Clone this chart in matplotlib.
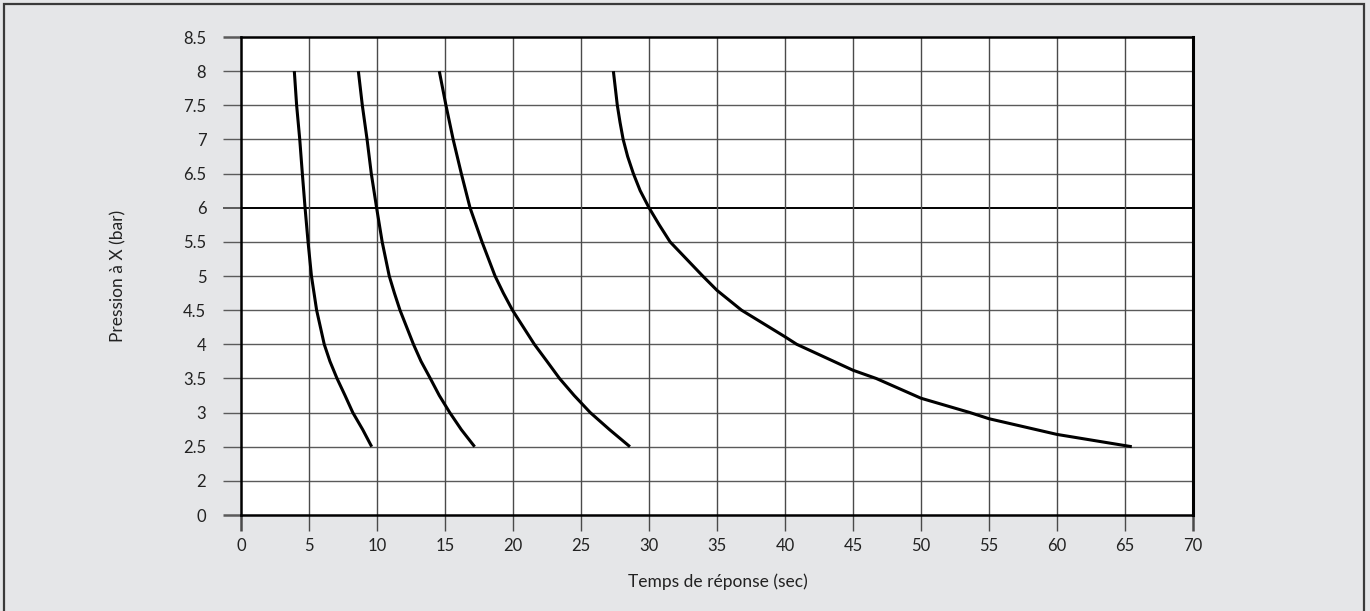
import numpy as np
import matplotlib.pyplot as plt
from matplotlib.patches import Rectangle

plt.rcParams['font.family'] = ['Lato', 'DejaVu Sans']

# Temps de réponse (sec), at pressures in bar
p1 = [8, 7.5, 7, 6.5, 6, 5.5, 5, 4.75, 4.5, 4, 3.75, 3.5, 3.25, 3, 2.75, 2.5]
t1 = [3.92, 4.09, 4.32, 4.51, 4.71, 4.93, 5.18, 5.37, 5.56, 6.12, 6.54, 7.06, 7.65, 8.22, 8.95, 9.61]

p2 = [8, 7.5, 7, 6.5, 6, 5.5, 5, 4.75, 4.5, 4, 3.75, 3.5, 3.25, 3, 2.75, 2.5]
t2 = [8.63, 8.92, 9.27, 9.58, 9.97, 10.38, 10.9, 11.28, 11.69, 12.68, 13.24, 13.92, 14.58, 15.35, 16.2, 17.18]

p3 = [8, 7.5, 7, 6.5, 6, 5.5, 5, 4.75, 4.5, 4, 3.75, 3.5, 3.25, 3, 2.75, 2.5]
t3 = [14.58, 15.07, 15.6, 16.2, 16.84, 17.72, 18.68, 19.29, 19.96, 21.57, 22.5, 23.42, 24.5, 25.68, 27.1, 28.6]

p4 = [8, 7.5, 7.25, 7, 6.75, 6.5, 6.25, 6, 5.75, 5.5, 5, 4.79, 4.5, 4.11, 4, 3.62, 3.5, 3.21, 3, 2.91, 2.68, 2.5]
t4 = [27.38, 27.67, 27.87, 28.1, 28.43, 28.85, 29.35, 30.0, 30.75, 31.55, 33.95, 35.0, 36.8, 40.0, 40.86, 45.0, 46.7, 50.0, 53.6, 55.0, 60.0, 65.5]

y_ticks = [0, 2, 2.5, 3, 3.5, 4, 4.5, 5, 5.5, 6, 6.5, 7, 7.5, 8, 8.5]
y_labels = ['0', '2', '2.5', '3', '3.5', '4', '4.5', '5', '5.5', '6', '6.5', '7', '7.5', '8', '8.5']
x_ticks = list(range(0, 75, 5))

# axis is broken between 0 and 2: every tick label gets the same spacing
fwd_pts = [0, 2, 8.5]
fwd_pos = [0, 1, 14]


def fwd(v):
    return np.interp(v, fwd_pts, fwd_pos)


def inv(v):
    return np.interp(v, fwd_pos, fwd_pts)


fig = plt.figure(figsize=(13.7, 6.11), dpi=100)
fig.patch.set_facecolor('#e5e6e8')
fig.patches.append(Rectangle((4 / 1370, -0.01), 1360 / 1370, 1 - 4 / 611 + 0.01,
                             transform=fig.transFigure, fill=False,
                             edgecolor='#3a3a3a', linewidth=1.6))

ax = fig.add_axes([241 / 1370, 1 - 515 / 611, 952 / 1370, (515 - 37) / 611])
ax.set_facecolor('white')
ax.set_yscale('function', functions=(fwd, inv))
ax.set_xlim(0, 70)
ax.set_ylim(0, 8.5)
ax.set_xticks(x_ticks)
ax.set_yticks(y_ticks)
ax.set_yticklabels(y_labels)
ax.yaxis.set_minor_locator(plt.NullLocator())

for v in y_ticks[1:-1]:
    if v == 6:
        ax.axhline(v, color='black', linewidth=1.4, zorder=1)
    else:
        ax.axhline(v, color='#5a5a5a', linewidth=1.0, zorder=1)
for v in x_ticks[1:-1]:
    ax.axvline(v, color='#4a4a4a', linewidth=1.0, zorder=1)

for t, p in [(t1, p1), (t2, p2), (t3, p3), (t4, p4)]:
    ax.plot(t, p, color='black', linewidth=2.2, solid_capstyle='butt',
            solid_joinstyle='round', zorder=3)

for side in ['left', 'right', 'top', 'bottom']:
    ax.spines[side].set_color('black')
    ax.spines[side].set_linewidth(1.8)
ax.spines['right'].set_linewidth(2.2)

ax.tick_params(axis='y', direction='out', length=13, width=1.0, color='#5a5a5a',
               pad=12, labelsize=12, labelcolor='#222222')
ax.tick_params(axis='x', direction='out', length=11.5, width=1.0, color='#4a4a4a',
               pad=5, labelsize=12, labelcolor='#222222')
for tk in [ax.yaxis.get_major_ticks()[0], ax.yaxis.get_major_ticks()[-1],
           ax.xaxis.get_major_ticks()[0], ax.xaxis.get_major_ticks()[-1]]:
    tk.tick1line.set_color('black')
    tk.tick1line.set_markeredgewidth(1.8)
ax.yaxis.get_major_ticks()[9].tick1line.set_color('black')
ax.yaxis.get_major_ticks()[9].tick1line.set_markeredgewidth(1.4)

fig.text(118 / 1370, 1 - 276 / 611, 'Pression à X (bar)', rotation=90,
         ha='center', va='center', fontsize=12.5, color='#222222')
fig.text(718 / 1370, 1 - 582 / 611, 'Temps de réponse (sec)',
         ha='center', va='center', fontsize=12.5, color='#222222')

fig.savefig('out.png', dpi=100, facecolor=fig.get_facecolor())
